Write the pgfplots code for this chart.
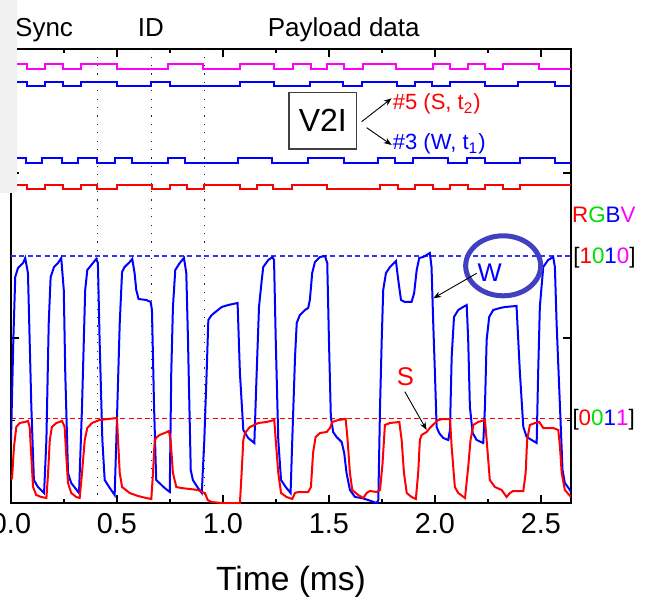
\documentclass[border=0pt]{standalone}
\usepackage{fontspec}
\setmainfont{Liberation Sans}
\usepackage{pgfplots}
\pgfplotsset{compat=1.18}
\usetikzlibrary{arrows.meta}
\definecolor{sigred}{HTML}{FF0000}
\definecolor{sigblue}{HTML}{0000FF}
\definecolor{dashblue}{HTML}{3333FF}
\definecolor{sigmag}{HTML}{FF00FF}
\definecolor{siggreen}{HTML}{00E000}
\definecolor{ringblue}{HTML}{4040C0}
\definecolor{cropgray}{HTML}{F0F0F0}
\newcommand{\hdrfont}{\fontsize{13}{15}\selectfont}
\newcommand{\lblfont}{\fontsize{11}{13}\selectfont}
\newcommand{\codefont}{\fontsize{11.2}{13}\selectfont}
\newcommand{\annfont}{\fontsize{12.8}{15}\selectfont}

\begin{document}
\begin{tikzpicture}
\begin{scope}
\clip (-5.5pt,-51pt) rectangle (323.5pt,251.5pt);
\begin{axis}[
  scale only axis, width=280pt, height=227pt,
  at={(0,0)}, anchor=south west,
  xmin=0, xmax=2.642, ymin=0, ymax=454,
  xtick={0,0.5,1,1.5,2,2.5}, minor xtick={0.25,0.75,1.25,1.75,2.25},
  xticklabels={0.0,0.5,1.0,1.5,2.0,2.5},
  ytick={0,165,330}, minor ytick={82.5,247.5}, yticklabels={},
  tick align=inside, xtick pos=both, ytick pos=both,
  major tick length=3.8pt, minor tick length=2pt,
  tick style={black, line width=0.6pt},
  axis line style={black, line width=0.75pt},
  ticklabel style={font=\fontsize{14.4}{16}\selectfont},
  xticklabel style={yshift=-1.7pt},
  /pgf/number format/assume math mode=true,
  clip mode=individual,
]
% reference levels
\addplot[color=dashblue, solid, line width=0.9pt, dash pattern=on 2.5pt off 1.7pt] coordinates {(0,247.3) (2.642,247.3)};
\addplot[color=sigred, solid, line width=0.7pt, dash pattern=on 2.5pt off 1.7pt] coordinates {(0,84.7) (2.642,84.7)};
% frame boundaries
\draw[black!85, line width=0.6pt, dash pattern=on 0.6pt off 3.6pt] (axis cs:0.409,0) -- (axis cs:0.409,454);
\draw[black!85, line width=0.6pt, dash pattern=on 0.6pt off 3.6pt] (axis cs:0.664,0) -- (axis cs:0.664,454);
\draw[black!85, line width=0.6pt, dash pattern=on 0.6pt off 3.6pt] (axis cs:0.914,0) -- (axis cs:0.914,454);

% transmitted bit streams
\addplot[sigmag, line width=1pt, const plot] coordinates {
(0,438.7) (0.077,434) (0.160,438.7) (0.247,434) (0.329,438.7) (0.499,434) (0.739,438.7) (0.907,434) (1.080,438.7) (1.241,434) (1.329,438.7) (1.414,434) (1.492,438.7) (1.571,434) (1.662,438.7) (1.816,434) (1.989,438.7) (2.071,434) (2.157,438.7) (2.236,434) (2.322,438.7) (2.492,434) (2.642,434)};
\addplot[sigblue, line width=1pt, const plot] coordinates {
(0,421.3) (0.077,417) (0.160,421.3) (0.247,417) (0.329,421.3) (0.499,417) (0.660,421.3) (0.750,417) (1.080,421.3) (1.241,417) (1.410,421.3) (1.566,417) (1.654,421.3) (1.819,417) (1.906,421.3) (1.984,417) (2.071,421.3) (2.236,417) (2.393,421.3) (2.566,417) (2.642,417)};
\addplot[sigblue, line width=1pt, const plot] coordinates {
(0,344.7) (0.071,340.3) (0.148,344.7) (0.239,340.3) (0.317,344.7) (0.407,340.3) (0.491,344.7) (0.569,340.3) (0.739,344.7) (0.821,340.3) (1.072,344.7) (1.233,340.3) (1.402,344.7) (1.571,340.3) (1.730,344.7) (1.811,340.3) (1.898,344.7) (2.063,340.3) (2.150,344.7) (2.236,340.3) (2.401,344.7) (2.566,340.3) (2.642,340.3)};
\addplot[sigred, line width=1pt, const plot] coordinates {
(0,318.3) (0.077,314) (0.160,318.3) (0.247,314) (0.329,318.3) (0.407,314) (0.499,318.3) (0.664,314) (0.750,318.3) (0.829,314) (0.912,318.3) (1.080,314) (1.159,318.3) (1.237,314) (1.324,318.3) (1.489,314) (1.741,318.3) (1.827,314) (1.906,318.3) (1.992,314) (2.071,318.3) (2.157,314) (2.236,318.3) (2.322,314) (2.401,318.3) (2.642,318.3)};

% received W signal
\addplot[sigblue, line width=1pt] coordinates {
(0,63) (0.011,163) (0.020,226) (0.033,235) (0.057,240) (0.067,245) (0.080,230) (0.088,163) (0.096,96) (0.108,23) (0.127,16) (0.156,10) (0.167,63) (0.178,180) (0.187,226) (0.203,236) (0.222,240) (0.237,245) (0.249,213) (0.256,130) (0.269,30) (0.284,20) (0.321,10) (0.335,96) (0.350,213) (0.360,233) (0.379,238) (0.402,244) (0.410,240) (0.418,163) (0.431,63) (0.442,23) (0.466,15) (0.489,8) (0.497,63) (0.513,180) (0.524,231) (0.536,236) (0.560,241) (0.572,244) (0.583,230) (0.591,213) (0.602,204) (0.638,203) (0.659,201) (0.665,193) (0.675,96) (0.685,23) (0.725,15) (0.749,11) (0.756,130) (0.764,196) (0.775,233) (0.796,240) (0.816,245) (0.827,230) (0.835,163) (0.848,33) (0.858,23) (0.882,15) (0.900,10) (0.912,63) (0.923,130) (0.931,183) (0.947,188) (0.994,196) (1.025,198) (1.069,200) (1.080,130) (1.096,73) (1.119,65) (1.148,60) (1.159,130) (1.170,196) (1.183,223) (1.190,236) (1.214,243) (1.233,246) (1.241,243) (1.249,163) (1.261,63) (1.274,23) (1.296,16) (1.319,10) (1.327,63) (1.340,146) (1.348,180) (1.363,188) (1.387,193) (1.402,195) (1.410,203) (1.421,230) (1.434,241) (1.458,246) (1.481,247) (1.492,240) (1.500,163) (1.509,86) (1.520,71) (1.536,66) (1.560,61) (1.572,50) (1.583,30) (1.599,13) (1.623,6) (1.654,5) (1.685,3) (1.725,0) (1.733,3) (1.741,96) (1.749,163) (1.756,213) (1.769,230) (1.788,236) (1.816,242) (1.827,223) (1.840,203) (1.858,201) (1.890,201) (1.902,210) (1.914,233) (1.926,245) (1.945,246) (1.976,250) (1.984,236) (1.992,180) (2.000,130) (2.008,76) (2.020,70) (2.039,65) (2.063,63) (2.071,73) (2.079,146) (2.090,186) (2.110,193) (2.133,196) (2.150,198) (2.157,163) (2.165,96) (2.178,70) (2.197,63) (2.228,60) (2.236,96) (2.244,163) (2.256,186) (2.275,193) (2.307,195) (2.330,196) (2.385,197) (2.401,130) (2.417,76) (2.433,66) (2.480,60) (2.487,130) (2.495,196) (2.511,236) (2.534,243) (2.558,246) (2.566,236) (2.574,180) (2.590,96) (2.602,33) (2.613,20) (2.637,13) (2.642,11)};

% received S signal
\addplot[sigred, line width=1pt] coordinates {
(0,23) (0.005,25) (0.014,56) (0.025,76) (0.041,80) (0.065,81) (0.080,82) (0.088,76) (0.096,46) (0.104,16) (0.119,8) (0.143,6) (0.167,5) (0.175,30) (0.183,63) (0.193,76) (0.214,80) (0.241,82) (0.253,76) (0.261,46) (0.269,20) (0.284,10) (0.308,6) (0.324,5) (0.335,30) (0.348,63) (0.360,75) (0.382,80) (0.418,83) (0.458,84) (0.500,85) (0.505,63) (0.513,30) (0.524,16) (0.560,10) (0.599,7) (0.638,5) (0.662,4) (0.670,30) (0.678,63) (0.689,66) (0.701,68) (0.725,70) (0.745,72) (0.753,63) (0.764,30) (0.780,16) (0.803,15) (0.843,14) (0.882,13) (0.900,11) (0.915,10) (0.928,3) (0.947,1) (0.994,0) (1.080,0) (1.088,30) (1.096,63) (1.104,70) (1.127,76) (1.167,80) (1.206,81) (1.242,83) (1.249,63) (1.261,30) (1.274,10) (1.300,6) (1.327,4) (1.340,10) (1.355,11) (1.402,11) (1.415,16) (1.425,50) (1.437,66) (1.458,70) (1.489,71) (1.505,75) (1.516,81) (1.544,83) (1.579,84) (1.588,63) (1.599,30) (1.610,13) (1.638,8) (1.662,5) (1.678,10) (1.693,12) (1.725,11) (1.741,13) (1.753,40) (1.764,78) (1.788,80) (1.832,81) (1.843,63) (1.854,30) (1.867,10) (1.890,6) (1.910,4) (1.921,30) (1.929,63) (1.937,68) (1.961,71) (1.976,75) (2.000,80) (2.016,83) (2.039,84) (2.071,84) (2.079,56) (2.094,16) (2.110,10) (2.142,5) (2.157,36) (2.168,63) (2.181,78) (2.204,81) (2.236,83) (2.244,63) (2.259,23) (2.283,16) (2.315,13) (2.338,6) (2.354,10) (2.369,12) (2.417,12) (2.428,30) (2.435,63) (2.448,78) (2.472,80) (2.492,81) (2.511,75) (2.558,75) (2.582,73) (2.590,56) (2.598,30) (2.613,13) (2.642,6)};

% headers
\node[font=\hdrfont, anchor=base] at (axis cs:0.156,466.3) {Sync};
\node[font=\hdrfont, anchor=base] at (axis cs:0.660,466.3) {ID};
\node[font=\hdrfont, anchor=base] at (axis cs:1.570,466.3) {Payload data};
% V2I box and arrows
\node[draw=black!75, line width=0.6pt, minimum width=33.8pt, minimum height=28.2pt, inner sep=0pt, font=\fontsize{16}{18}\selectfont] at (axis cs:1.471,382.2) {V2I};
\draw[-{Stealth[length=4pt,width=3pt]}, line width=0.45pt] (axis cs:1.654,381.3) -- (axis cs:1.796,404.7);
\draw[-{Stealth[length=4pt,width=3pt]}, line width=0.45pt] (axis cs:1.678,375.3) -- (axis cs:1.796,358);
\node[anchor=base west, inner sep=0pt, text=sigred, font=\lblfont] at (axis cs:1.800,393) {\#5 (S, t\textsubscript{2})};
\node[anchor=base west, inner sep=0pt, text=sigblue, font=\lblfont] at (axis cs:1.800,353) {\#3 (W, t\textsubscript{1})};
% colour codes
\node[anchor=base, inner sep=0pt, font=\codefont] at (axis cs:2.797,280.3) {{\color{sigred}R}{\color{siggreen}G}{\color{sigblue}B}{\color{sigmag}V}};
\node[anchor=base, inner sep=0pt, font=\codefont] at (axis cs:2.800,239.7) {[{\color{sigred}1}{\color{siggreen}0}{\color{sigblue}1}{\color{sigmag}0}]};
\node[anchor=base, inner sep=0pt, font=\codefont] at (axis cs:2.796,78) {[{\color{sigred}0}{\color{siggreen}0}{\color{sigblue}1}{\color{sigmag}1}]};
% W / S annotations
\draw[ringblue, line width=2.5pt] (axis cs:2.322,237.2) ellipse [x radius=18.75pt, y radius=15pt];
\node[anchor=base, inner sep=0pt, text=sigblue, font=\annfont] at (axis cs:2.259,221.3) {W};
\draw[-{Stealth[length=4pt,width=3pt]}, line width=0.45pt] (axis cs:2.197,229.7) -- (axis cs:1.992,204.7);
\node[anchor=base, inner sep=0pt, text=sigred, font=\annfont] at (axis cs:1.861,118) {S};
\draw[-{Stealth[length=4pt,width=3pt]}, line width=0.45pt] (axis cs:1.858,111.3) -- (axis cs:1.961,73);
% axis title
\node[anchor=base, font=\fontsize{16.8}{19}\selectfont] at (axis description cs:0.5,0) [yshift=-43.5pt] {Time (ms)};
\end{axis}
\fill[cropgray] (-5.5pt,155pt) rectangle (3pt,251.5pt);
\end{scope}
\pgfresetboundingbox
\path[use as bounding box] (-5.5pt,-51pt) rectangle (323.5pt,251.5pt);
\end{tikzpicture}
\end{document}
